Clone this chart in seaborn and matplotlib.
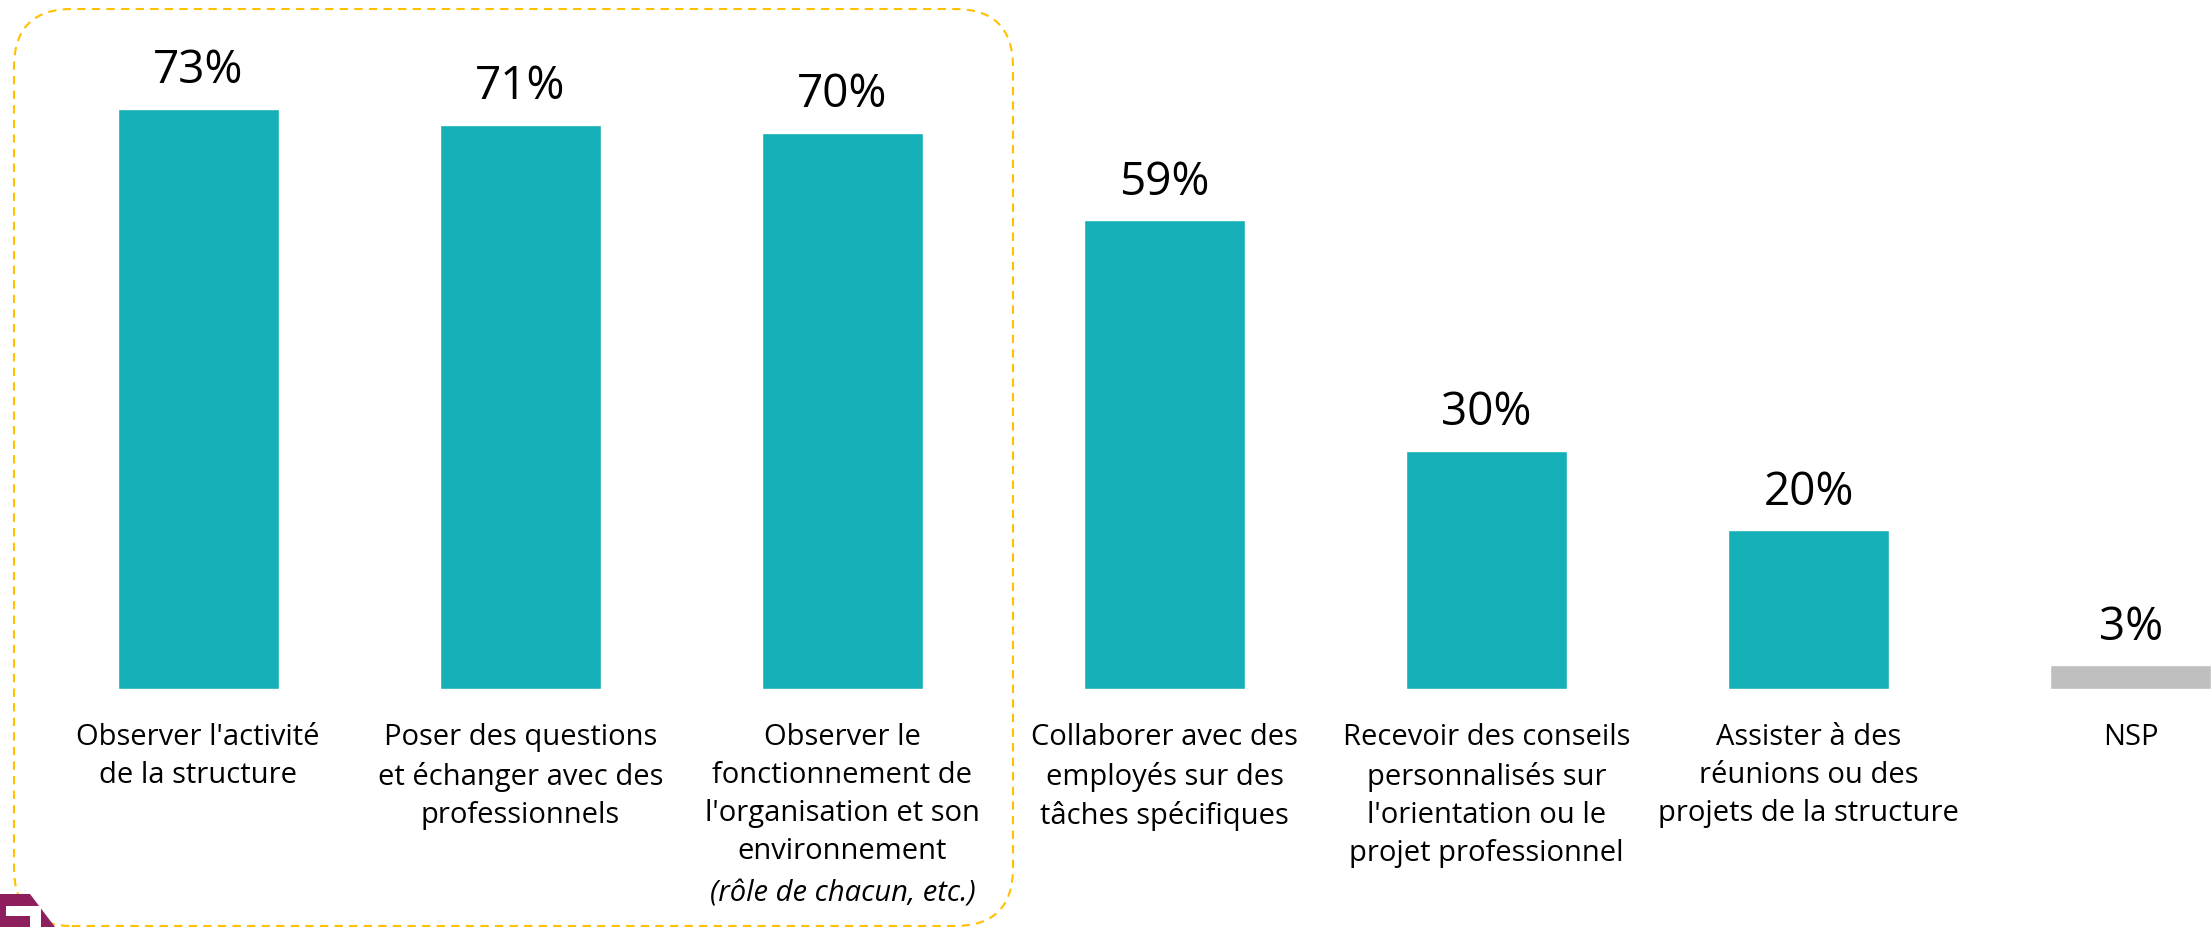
import numpy as np
import pandas as pd
import matplotlib
matplotlib.use("Agg")
import matplotlib.pyplot as plt
import seaborn as sns
from matplotlib.patches import FancyBboxPatch, Polygon

# => Data
categories = [
    "Observer l'activité\nde la structure",
    "Poser des questions\net échanger avec des\nprofessionnels",
    "Observer le\nfonctionnement de\nl'organisation et son\nenvironnement",
    "Collaborer avec des\nemployés sur des\ntâches spécifiques",
    "Recevoir des conseils\npersonnalisés sur\nl'orientation ou le\nprojet professionnel",
    "Assister à des\nréunions ou des\nprojets de la structure",
    "NSP",
]
values = [73, 71, 70, 59, 30, 20, 3]
value_labels = ["73%", "71%", "70%", "59%", "30%", "20%", "3%"]
extra_note = "(rôle de chacun, etc.)"
bar_colors = ["#14AFB7"] * 6 + ["#BFBFBF"]

df = pd.DataFrame({"cat": categories, "val": values})

sns.set_style("white")
plt.rcParams["font.family"] = ["Open Sans", "DejaVu Sans"]

fig = plt.figure(figsize=(22.12, 9.28), dpi=100)
ax = fig.add_axes([0, 238 / 928, 1, 690 / 928])

sns.barplot(data=df, x="cat", y="val", hue="cat", palette=bar_colors,
            width=0.5, legend=False, ax=ax, saturation=1)

ax.set_xlim(-0.615, 6.252)
ax.set_ylim(0, 86.8)
ax.set_xlabel("")
ax.set_ylabel("")
ax.set_xticks([])
ax.set_yticks([])
sns.despine(ax=ax, left=True, bottom=True)

# value labels above the bars
for i, (v, lab) in enumerate(zip(values, value_labels)):
    ax.annotate(lab, (i, v), xytext=(0, 11), textcoords="offset points",
                ha="center", va="bottom", fontsize=33, color="black")

# category labels below the bars
line_pt = 28.2
for i, cat in enumerate(categories):
    ax.annotate(cat, (i, 0), xytext=(0, -24), textcoords="offset points",
                ha="center", va="top", fontsize=21, color="black",
                linespacing=1.41, annotation_clip=False)
ax.annotate(extra_note, (2, 0), xytext=(0, -24 - 4 * line_pt), textcoords="offset points",
            ha="center", va="top", fontsize=21, style="italic", color="black",
            annotation_clip=False)

# dashed rounded highlight around the first three items (pixel coords)
box = FancyBboxPatch((14, 1), 999, 917, boxstyle="round,pad=0,rounding_size=58",
                     transform=None, fill=False, edgecolor="#FFC000",
                     linewidth=1.5, linestyle=(0, (4, 3)), clip_on=False)
fig.patches.append(box)

# bit of a logo peeking in the bottom-left corner
logo = Polygon([(0, 0), (0, 33), (30, 33), (55, 0)], closed=True, transform=None,
               facecolor="#8E1F5C", edgecolor="none")
hole = Polygon([(6, 21), (41, 21), (41, 0), (30, 0), (30, 11), (6, 11)], closed=True,
               transform=None, facecolor="white", edgecolor="none")
fig.patches.append(logo)
fig.patches.append(hole)

fig.savefig("out.png", dpi=100)
